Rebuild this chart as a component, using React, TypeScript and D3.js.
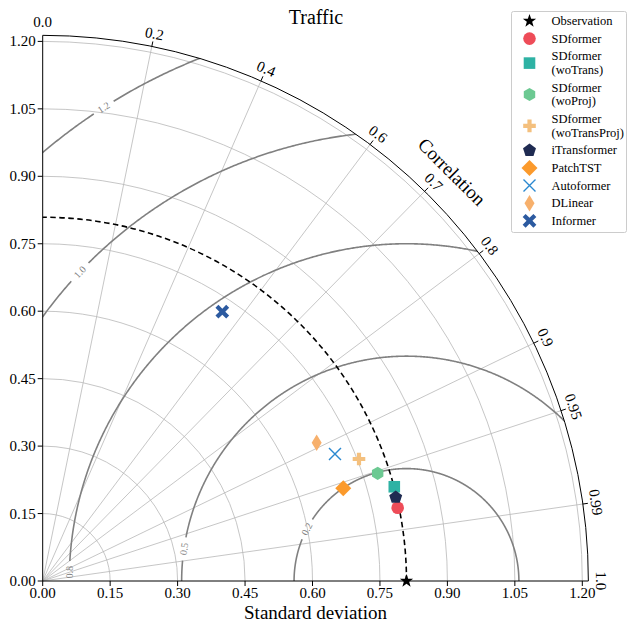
import * as d3 from "d3";

// Taylor diagram, "Traffic"
const title = "Traffic";
const refStd = 0.809;

const models = [
  "SDformer",
  "SDformer\n(woTrans)",
  "SDformer\n(woProj)",
  "SDformer\n(woTransProj)",
  "iTransformer",
  "PatchTST",
  "Autoformer",
  "DLinear",
  "Informer",
];
const stds = [0.806, 0.8095, 0.7825, 0.7539, 0.8068, 0.6995, 0.7087, 0.6825, 0.7198];
const corrs = [0.9794, 0.9659, 0.952, 0.933, 0.973, 0.9556, 0.9172, 0.8927, 0.5549];
const colors = [
  "#ee4c58",
  "#2eb2a4",
  "#6cc992",
  "#f4c07e",
  "#1f2b52",
  "#fb9a2c",
  "#2a88d0",
  "#f7b06c",
  "#2c5aa0",
];
const shapes = ["circle", "square", "hexagon", "plus", "pentagon", "diamond", "x", "thinDiamond", "filledX"];

const corrTicks = [0, 0.2, 0.4, 0.6, 0.7, 0.8, 0.9, 0.95, 0.99, 1.0];
const corrTickLabels = ["0.0", "0.2", "0.4", "0.6", "0.7", "0.8", "0.9", "0.95", "0.99", "1.0"];
const stdTicks = [0, 0.15, 0.3, 0.45, 0.6, 0.75, 0.9, 1.05, 1.2];

const rmsLevels = [0.25, 0.5, 0.75, 1.0, 1.25];
const rmsLabels = ["0.2", "0.5", "0.8", "1.0", "1.2"];
const rmsLabelAngles = [152.5, 171.8, 178.5, 136.6, 122.6];

const W = 627;
const H = 622;
const ox = 42.7;
const oy = 581;
const FONT = "'Liberation Serif', 'Times New Roman', serif";

const rScale = d3.scaleLinear().domain([0, 1.2]).range([0, 539.6]);
const rmax = 1.5 * refStd;
const R = rScale(rmax);

const toPx = (std: number, corr: number): [number, number] => {
  const t = Math.acos(corr);
  return [ox + rScale(std) * Math.cos(t), oy - rScale(std) * Math.sin(t)];
};

const arcPath = (r: number) => `M${ox + r},${oy} A${r},${r} 0 0 0 ${ox},${oy - r}`;

function poly(n: number, r: number, start = 0) {
  const pts: [number, number][] = [];
  for (let i = 0; i < n; i++) {
    const a = start + (i * 2 * Math.PI) / n;
    pts.push([r * Math.sin(a), -r * Math.cos(a)]);
  }
  return pts;
}
const toD = (pts: [number, number][]) => "M" + pts.map((p) => p.join(",")).join("L") + "Z";

function plusPts(e: number, a: number): [number, number][] {
  return [
    [-a, -e], [a, -e], [a, -a], [e, -a], [e, a], [a, a],
    [a, e], [-a, e], [-a, a], [-e, a], [-e, -a], [-a, -a],
  ];
}

function markerPath(shape: string): string {
  switch (shape) {
    case "circle":
      return d3.symbol(d3.symbolCircle, Math.PI * 6.3 * 6.3)() || "";
    case "square":
      return "M-5.8,-5.8L5.8,-5.8L5.8,5.8L-5.8,5.8Z";
    case "hexagon":
      return toD(poly(6, 6.6));
    case "pentagon":
      return toD(poly(5, 6.8));
    case "diamond":
      return toD(poly(4, 8));
    case "thinDiamond":
      return toD([[0, -8.2], [5, 0], [0, 8.2], [-5, 0]]);
    case "plus":
      return toD(plusPts(6.3, 2.1));
    case "filledX": {
      const c = Math.SQRT1_2;
      return toD(plusPts(7.6, 2.1).map(([x, y]) => [c * (x - y), c * (x + y)] as [number, number]));
    }
    case "x":
      return "M-6,-6L6,6M-6,6L6,-6";
    case "star": {
      const pts: [number, number][] = [];
      for (let i = 0; i < 10; i++) {
        const r = i % 2 === 0 ? 7 : 2.8;
        const a = (i * Math.PI) / 5;
        pts.push([r * Math.sin(a), -r * Math.cos(a)]);
      }
      return toD(pts);
    }
  }
  return "";
}

const Marker = ({ shape, color, x, y }: { shape: string; color: string; x: number; y: number }) =>
  shape === "x" ? (
    <path d={markerPath(shape)} transform={`translate(${x},${y})`} fill="none" stroke={color} strokeWidth={1.4} />
  ) : (
    <path d={markerPath(shape)} transform={`translate(${x},${y})`} fill={color} />
  );

const contourLine = d3
  .line<[number, number]>()
  .x((d) => ox + rScale(d[0]))
  .y((d) => oy - rScale(d[1]));

function contourSegments(level: number, labelDeg: number, gapPx: number) {
  const gap = ((gapPx / rScale(level)) * 180) / Math.PI / 2;
  const a: [number, number][] = [];
  const b: [number, number][] = [];
  for (let deg = 0; deg <= 180.001; deg += 0.2) {
    const rad = (deg * Math.PI) / 180;
    const p: [number, number] = [refStd + level * Math.cos(rad), level * Math.sin(rad)];
    if (deg < labelDeg - gap) a.push(p);
    else if (deg > labelDeg + gap) b.push(p);
  }
  return [a, b];
}

const legendRows = (() => {
  let y = 21;
  const rows: { y: number; lines: string[] }[] = [{ y, lines: ["Observation"] }];
  let prevH = 17.6;
  models.forEach((m) => {
    const lines = m.split("\n");
    const h = lines.length === 1 ? 17.6 : 31.4;
    y += prevH / 2 + h / 2;
    rows.push({ y, lines });
    prevH = h;
  });
  return rows;
})();

export default function App() {
  const sector = `M${ox},${oy} L${ox + R},${oy} A${R},${R} 0 0 0 ${ox},${oy - R} Z`;
  const [sx, sy] = toPx(refStd, 1);
  return (
    <svg
      width={W}
      height={H}
      style={{ position: "absolute", left: 0, top: 0, background: "#fff" }}
      fontFamily={FONT}
    >
      <defs>
        <clipPath id="quad">
          <path d={sector} />
        </clipPath>
      </defs>

      {/* std grid arcs */}
      {stdTicks.slice(1).map((s) => (
        <path key={s} d={arcPath(rScale(s))} fill="none" stroke="#b8b8b8" strokeWidth={0.8} />
      ))}
      {/* correlation grid lines */}
      {corrTicks.slice(1, -1).map((c) => {
        const [x, y] = toPx(rmax, c);
        return <line key={c} x1={ox} y1={oy} x2={x} y2={y} stroke="#b8b8b8" strokeWidth={0.8} />;
      })}

      {/* RMS contours */}
      <g clipPath="url(#quad)">
        {rmsLevels.map((l, i) =>
          contourSegments(l, rmsLabelAngles[i], 22).map((seg, j) => (
            <path key={`${i}-${j}`} d={contourLine(seg) || ""} fill="none" stroke="#808080" strokeWidth={1.6} />
          )),
        )}
      </g>
      {rmsLevels.map((l, i) => {
        const rad = (rmsLabelAngles[i] * Math.PI) / 180;
        const x = ox + rScale(refStd + l * Math.cos(rad));
        const y = oy - rScale(l * Math.sin(rad));
        return (
          <text
            key={l}
            x={x}
            y={y}
            transform={`rotate(${90 - rmsLabelAngles[i]},${x},${y})`}
            textAnchor="middle"
            dominantBaseline="central"
            fontSize={10}
            fill="#808080"
          >
            {rmsLabels[i]}
          </text>
        );
      })}

      {/* reference std arc */}
      <path
        d={`M${ox + rScale(refStd)},${oy} A${rScale(refStd)},${rScale(refStd)} 0 0 0 ${ox},${oy - rScale(refStd)}`}
        fill="none"
        stroke="#000"
        strokeWidth={1.6}
        strokeDasharray="5.5,3.5"
      />

      {/* axes */}
      <path d={`M${ox},${oy - R} L${ox},${oy} L${ox + R},${oy}`} fill="none" stroke="#000" strokeWidth={1} />
      <path d={arcPath(R)} fill="none" stroke="#000" strokeWidth={1} />

      {stdTicks.map((t) => (
        <g key={`y${t}`}>
          <line x1={ox - 5} x2={ox} y1={oy - rScale(t)} y2={oy - rScale(t)} stroke="#000" />
          <text x={ox - 7} y={oy - rScale(t)} textAnchor="end" dominantBaseline="central" fontSize={15}>
            {d3.format(".2f")(t)}
          </text>
        </g>
      ))}
      {stdTicks.map((t) => (
        <g key={`x${t}`}>
          <line x1={ox + rScale(t)} x2={ox + rScale(t)} y1={oy} y2={oy + 5} stroke="#000" />
          <text x={ox + rScale(t)} y={oy + 17} textAnchor="middle" fontSize={15}>
            {d3.format(".2f")(t)}
          </text>
        </g>
      ))}

      {corrTicks.map((c, i) => {
        const t = Math.acos(c);
        const [x1, y1] = [ox + R * Math.cos(t), oy - R * Math.sin(t)];
        const [x2, y2] = [ox + (R + 5) * Math.cos(t), oy - (R + 5) * Math.sin(t)];
        const lx = ox + (R + 13) * Math.cos(t);
        const ly = oy - (R + 13) * Math.sin(t);
        const rot = 90 - (t * 180) / Math.PI;
        return (
          <g key={`c${c}`}>
            {i > 0 && i < corrTicks.length - 1 && <line x1={x1} y1={y1} x2={x2} y2={y2} stroke="#000" />}
            <text
              x={lx}
              y={ly}
              transform={`rotate(${rot},${lx},${ly})`}
              textAnchor="middle"
              dominantBaseline="central"
              fontSize={15}
            >
              {corrTickLabels[i]}
            </text>
          </g>
        );
      })}

      {(() => {
        const t = Math.PI / 4;
        const lx = ox + (R + 33) * Math.cos(t);
        const ly = oy - (R + 33) * Math.sin(t);
        return (
          <text x={lx} y={ly} transform={`rotate(45,${lx},${ly})`} textAnchor="middle" dominantBaseline="central" fontSize={19}>
            Correlation
          </text>
        );
      })()}

      <text x={ox + R / 2} y={618.5} textAnchor="middle" fontSize={19}>
        Standard deviation
      </text>
      <text x={316} y={24} textAnchor="middle" fontSize={20}>
        {title}
      </text>

      {/* model points */}
      <Marker shape="star" color="#000" x={sx} y={sy} />
      {models.map((m, i) => {
        const [x, y] = toPx(stds[i], corrs[i]);
        return <Marker key={m} shape={shapes[i]} color={colors[i]} x={x} y={y} />;
      })}

      {/* legend */}
      <rect x={511.5} y={11.5} width={115} height={221} rx={2} fill="#fff" fillOpacity={0.85} stroke="#cccccc" />
      {legendRows.map((row, i) => (
        <g key={i}>
          <Marker
            shape={i === 0 ? "star" : shapes[i - 1]}
            color={i === 0 ? "#000" : colors[i - 1]}
            x={529.5}
            y={row.y}
          />
          {row.lines.map((ln, k) => (
            <text
              key={k}
              x={551.5}
              y={row.y + (k - (row.lines.length - 1) / 2) * 13.7}
              dominantBaseline="central"
              fontSize={12.5}
            >
              {ln}
            </text>
          ))}
        </g>
      ))}
    </svg>
  );
}
